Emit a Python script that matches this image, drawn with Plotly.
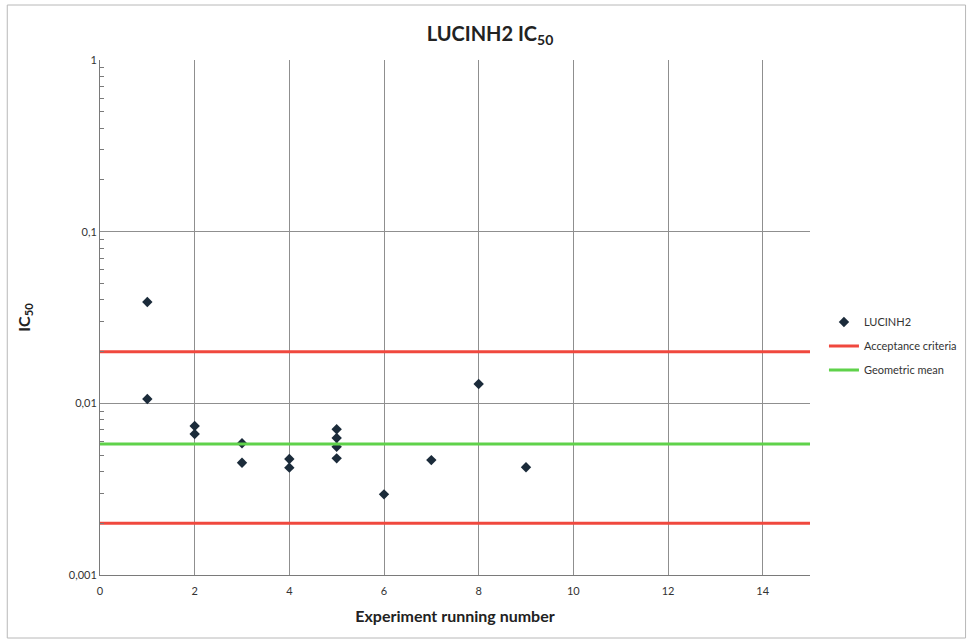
import plotly.graph_objects as go

# Experiment running number and measured IC50 values
run_number = [1, 1, 2, 2, 3, 3, 4, 4, 5, 5, 5, 5, 6, 7, 8, 9]
ic50 = [0.0389, 0.0106, 0.00738, 0.00663, 0.00585, 0.00451, 0.00474, 0.00422,
        0.00706, 0.00628, 0.00559, 0.00478, 0.00295, 0.00467, 0.01295, 0.00424]

# Reference levels
x_span = [0, 15]
acceptance_upper = 0.02
acceptance_lower = 0.002
geometric_mean = 0.0058

y_tickvals = [0.001, 0.01, 0.1, 1]
y_ticktext = ["0,001", "0,01", "0,1", "1"]

FONT = "Lato, 'Open Sans', sans-serif"

fig = go.Figure()

fig.add_trace(go.Scatter(
    x=run_number, y=ic50, mode="markers", name="LUCINH2", legendgroup="a",
    marker=dict(symbol="diamond", size=8, color="#1b2b3a"),
))

fig.add_trace(go.Scatter(
    x=x_span + [None] + x_span,
    y=[acceptance_upper] * 2 + [None] + [acceptance_lower] * 2,
    mode="lines", name="Acceptance criteria", legendgroup="b",
    line=dict(color="#f0483e", width=3),
))

fig.add_trace(go.Scatter(
    x=x_span, y=[geometric_mean] * 2,
    mode="lines", name="Geometric mean", legendgroup="c",
    line=dict(color="#5fd24a", width=3),
))

# plot-area geometry in pixels, used for the outer chart frame
W, H = 974, 644
ml, mr, mt, mb = 100, 162, 60, 69
pw, ph = W - ml - mr, H - mt - mb

def px_x(p):
    return (p - ml) / pw

def px_y(p):
    return (H - mb - p) / ph

fig.add_shape(type="rect", xref="paper", yref="paper",
              x0=px_x(7), x1=px_x(968), y0=px_y(638), y1=px_y(5),
              line=dict(color="#b8b8b8", width=1), fillcolor="rgba(0,0,0,0)")

fig.update_layout(
    width=W, height=H,
    margin=dict(l=ml, r=mr, t=mt, b=mb),
    paper_bgcolor="white", plot_bgcolor="white",
    font=dict(family=FONT, color="#333333", size=11),
    title=dict(text="<b>LUCINH2 IC<sub>50</sub></b>", x=490 / W, xref="container",
               xanchor="center", y=1 - 34 / H, yref="container", yanchor="middle",
               font=dict(family=FONT, size=20, color="#222222")),
    showlegend=True,
    legend=dict(x=px_x(826), y=px_y(346), xanchor="left", yanchor="middle",
                font=dict(family=FONT, size=11, color="#333333"),
                itemwidth=30, tracegroupgap=5),
    xaxis=dict(
        range=[0, 15], tickmode="array", tickvals=[0, 2, 4, 6, 8, 10, 12, 14],
        showgrid=True, gridcolor="#8f8f8f", gridwidth=1,
        showline=True, linecolor="#7a7a7a", linewidth=1,
        zeroline=False, ticks="outside", ticklen=6, tickcolor="rgba(0,0,0,0)",
        tickfont=dict(size=11),
        title=dict(text="<b>Experiment running number</b>",
                   font=dict(family=FONT, size=16, color="#222222"), standoff=14),
    ),
    yaxis=dict(
        type="log", range=[-3, 0], tickvals=y_tickvals, ticktext=y_ticktext,
        showgrid=True, gridcolor="#8f8f8f", gridwidth=1,
        showline=True, linecolor="#7a7a7a", linewidth=1,
        zeroline=False, ticks="", tickfont=dict(size=11),
        minor=dict(ticks="inside", ticklen=4, tickcolor="#7a7a7a", showgrid=False,
                   tickvals=[k * 10 ** e for e in (-3, -2, -1) for k in range(2, 10)]),
        title=dict(text="<b>IC<sub>50</sub></b>",
                   font=dict(family=FONT, size=16, color="#222222"), standoff=34),
    ),
)

fig.write_html("out.html")
